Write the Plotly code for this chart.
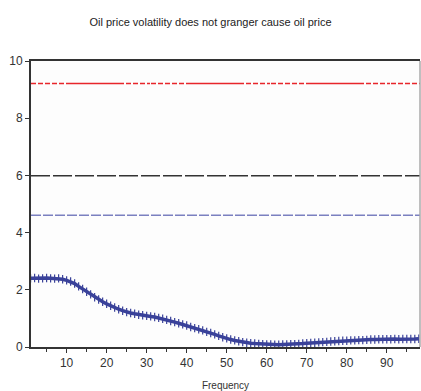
import plotly.graph_objects as go

# Data
freq = list(range(1, 99))
stat = [2.40, 2.41, 2.39, 2.40, 2.41, 2.40, 2.39, 2.40, 2.37,
        2.33, 2.29, 2.22, 2.12, 2.03, 1.93, 1.84, 1.74, 1.66, 1.58,
        1.51, 1.44, 1.38, 1.32, 1.27, 1.22, 1.19, 1.16, 1.13, 1.11,
        1.09, 1.07, 1.05, 1.02, 0.99, 0.95, 0.91, 0.87, 0.83, 0.79,
        0.75, 0.70, 0.66, 0.62, 0.58, 0.53, 0.49, 0.44, 0.39, 0.34,
        0.30, 0.26, 0.23, 0.20, 0.17, 0.15, 0.13, 0.12, 0.11, 0.10,
        0.09, 0.09, 0.08, 0.08, 0.09, 0.09, 0.10, 0.10, 0.11, 0.12,
        0.13, 0.14, 0.15, 0.16, 0.17, 0.18, 0.19, 0.20, 0.21, 0.22,
        0.22, 0.23, 0.23, 0.24, 0.24, 0.25, 0.26, 0.26, 0.27, 0.27,
        0.27, 0.27, 0.28, 0.27, 0.28, 0.28, 0.28, 0.28, 0.29]
crit_1pct = 9.21
crit_5pct = 5.99
crit_10pct = 4.61
x_span = [1.1, 98.3]
title_text = "Oil price volatility does not granger cause oil price"
x_title = "Frequency"

fig = go.Figure()

red_dash = ",".join(["5px,2px"] * 5 + ["58px,2px"] + ["5px,2px"] * 3 + ["3px,1px"])
fig.add_trace(go.Scatter(x=x_span, y=[crit_1pct, crit_1pct], mode="lines",
                         line=dict(color="#e8262b", width=1.5, dash=red_dash),
                         hoverinfo="skip", showlegend=False))
fig.add_trace(go.Scatter(x=x_span, y=[crit_5pct, crit_5pct], mode="lines",
                         line=dict(color="#333333", width=1.5, dash="19px,3px"),
                         hoverinfo="skip", showlegend=False))
fig.add_trace(go.Scatter(x=x_span, y=[crit_10pct, crit_10pct], mode="lines",
                         line=dict(color="#7b80c0", width=1.5, dash="10px,2px"),
                         hoverinfo="skip", showlegend=False))
fig.add_trace(go.Scatter(x=freq, y=stat, mode="lines+markers",
                         line=dict(color="#3a429a", width=3.5),
                         marker=dict(symbol="line-ns", size=6,
                                     line=dict(color="#3a429a", width=1.2)),
                         showlegend=False))

fig.update_layout(
    width=421, height=391,
    margin=dict(l=31, r=1, t=61, b=44, autoexpand=False),
    paper_bgcolor="white",
    plot_bgcolor="#fdfdfd",
    font=dict(family="Liberation Sans, Arial, sans-serif", color="#333333", size=12),
    title=dict(text=title_text, x=0.5, xanchor="center", y=0.943, yanchor="middle",
               font=dict(size=11, color="#222222")),
    showlegend=False,
)
fig.update_xaxes(
    range=x_span, tickmode="array", tickvals=[10, 20, 30, 40, 50, 60, 70, 80, 90],
    ticks="outside", ticklen=4, tickwidth=1, tickcolor="#333333",
    minor=dict(tickmode="array", tickvals=[5, 15, 25, 35, 45, 55, 65, 75, 85, 95],
               ticks="outside", ticklen=3, tickcolor="#333333"),
    showline=True, linewidth=2, linecolor="#333333", mirror=True,
    showgrid=False, zeroline=False, automargin=False,
    title=dict(text=x_title, font=dict(size=10), standoff=13),
    tickfont=dict(size=12),
)
fig.update_yaxes(
    range=[0, 10], tickvals=[0, 2, 4, 6, 8, 10],
    ticks="outside", ticklen=4, tickwidth=1, tickcolor="#333333",
    showline=True, linewidth=2, linecolor="#333333",
    showgrid=False, zeroline=False, automargin=False, tickfont=dict(size=12),
)
fig.add_shape(type="line", xref="paper", yref="paper", x0=1, x1=1, y0=0, y1=1,
              line=dict(color="#aaaaaa", width=1.5))

fig.write_html("out.html", config={"displayModeBar": False},
               post_script="document.body.style.margin='0';document.body.style.overflow='hidden';")
